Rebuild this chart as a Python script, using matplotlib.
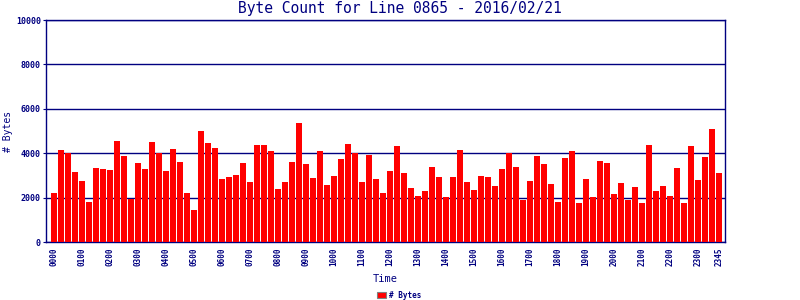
import numpy as np
import matplotlib
matplotlib.use("Agg")
import matplotlib.pyplot as plt

# 15-minute slots over the day, byte counts
slots = ["%02d%02d" % (h, m) for h in range(24) for m in (0, 15, 30, 45)]
byte_counts = [
    2230, 4170, 4030, 3170, 2770, 1820, 3350, 3310, 3260, 4570, 3900, 1960,
    3580, 3310, 4530, 4030, 3220, 4210, 3620, 2230, 1460, 5020, 4480, 4260,
    2860, 2950, 3040, 3580, 2720, 4390, 4390, 4120, 2410, 2720, 3620, 5380,
    3530, 2900, 4120, 2590, 2990, 3760, 4440, 4020, 2720, 3940, 2860, 2230,
    3220, 4350, 3130, 2450, 2090, 2320, 3400, 2950, 2050, 2950, 4170, 2720,
    2360, 2990, 2950, 2540, 3310, 4030, 3400, 1910, 2770, 3900, 3530, 2630,
    1820, 3800, 4120, 1770, 2860, 2050, 3670, 3580, 2180, 2680, 1910, 2500,
    1770, 4390, 2320, 2540, 2090, 3350, 1770, 4350, 2810, 3850, 5110, 3130,
]
tick_labels = ["%02d00" % h for h in range(24)] + ["2345"]
tick_pos = [4 * h for h in range(24)] + [95]

navy = "#000080"
mono = "DejaVu Sans Mono"

fig = plt.figure(figsize=(8, 3), dpi=100)
ax = fig.add_axes([0.058, 0.193, 0.848, 0.74])

x = np.arange(len(byte_counts))
ax.bar(x, byte_counts, width=0.86, color="#ff0000", label="# Bytes", zorder=3,
       edgecolor="none")

ax.set_xlim(-1.05, 95.85)
ax.set_ylim(0, 10000)
ax.set_yticks(np.arange(0, 10001, 2000))
ax.yaxis.grid(True, color=navy, lw=1.0, zorder=1)
ax.set_xticks(tick_pos)
ax.set_xticklabels(tick_labels, rotation=90, family=mono, fontsize=5.5,
                   color=navy, fontweight="bold")
for lab in ax.get_yticklabels():
    lab.set_family(mono)
    lab.set_fontsize(6)
    lab.set_color(navy)
    lab.set_fontweight("bold")
ax.tick_params(axis="both", colors=navy, length=2, width=0.8, pad=2)
ax.tick_params(axis="x", length=0, pad=4)

for s in ax.spines.values():
    s.set_color(navy)
    s.set_linewidth(1.0)

# title is centred on the figure, not the axes
fig.text(0.5, 0.972, "Byte Count for Line 0865 - 2016/02/21", family=mono,
         fontsize=10.5, color=navy, ha="center", va="center")
ax.set_xlabel("Time", family=mono, fontsize=7.5, color=navy, labelpad=6)
ax.set_ylabel("# Bytes", family=mono, fontsize=7, color=navy)
ax.yaxis.set_label_coords(-0.049, 0.5)

leg = ax.legend(loc="center", bbox_to_anchor=(0.52, -0.239), frameon=False,
                borderpad=0, borderaxespad=0,
                prop={"family": mono, "size": 5.5, "weight": "bold"},
                handlelength=1.2, handleheight=0.9, handletextpad=0.4)
for t in leg.get_texts():
    t.set_color(navy)
for h in leg.legend_handles:
    h.set_edgecolor("#808080")
    h.set_linewidth(0.8)

fig.savefig("out.png", dpi=100)
